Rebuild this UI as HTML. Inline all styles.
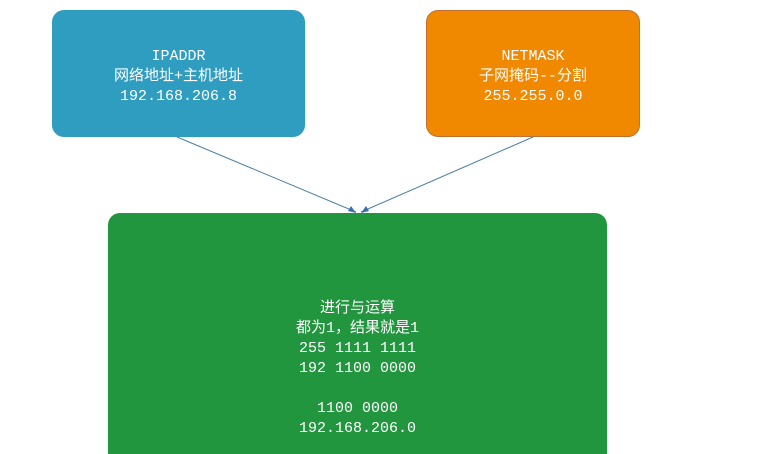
<!DOCTYPE html>
<html><head><meta charset="utf-8"><style>
html,body{margin:0;width:759px;height:454px;overflow:hidden;}
body{background:#fff;position:relative;font-family:"Liberation Mono","Noto Sans CJK SC",monospace;}
.b{position:absolute;border-radius:12px;color:#fff;text-align:center;font-size:15px;line-height:20px;box-sizing:border-box;}
</style></head><body>
<div class="b" style="left:52px;top:10px;width:253px;height:127px;background:#2e9dc0;padding-top:37px;">IPADDR<br>网络地址+主机地址<br>192.168.206.8</div>
<div class="b" style="left:426px;top:10px;width:214px;height:127px;background:#f08800;border:1px solid #c07030;padding-top:36px;">NETMASK<br>子网掩码--分割<br>255.255.0.0</div>
<div class="b" style="left:108px;top:213px;width:499px;height:241px;border-radius:12px 12px 0 0;background:#21963e;padding-top:86px;">进行与运算<br>都为1，结果就是1<br>255 1111 1111<br>192 1100 0000<br><br>1100 0000<br>192.168.206.0</div>
<svg style="position:absolute;left:0;top:0" width="759" height="454">
<line x1="177" y1="137" x2="356" y2="212" stroke="#4a7fa8" stroke-width="1"/>
<line x1="533" y1="137" x2="361" y2="212" stroke="#4a7fa8" stroke-width="1"/>
<polygon points="356,213 348,211 351,206" fill="#3a6fa8"/>
<polygon points="361,213 369,211 366,206" fill="#3a6fa8"/>
</svg>
</body></html>
